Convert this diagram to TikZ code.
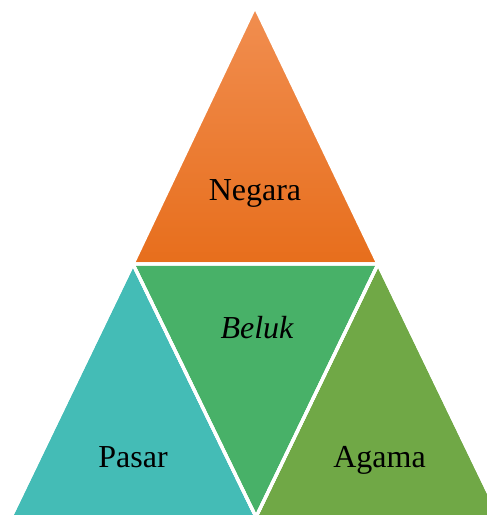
\documentclass[tikz,border=0pt]{standalone}
\usepackage{fontspec}
\setmainfont{Liberation Serif}
\definecolor{orgtop}{RGB}{241,142,80}
\definecolor{orgbot}{RGB}{231,110,28}
\definecolor{midgreen}{RGB}{72,177,104}
\definecolor{tealc}{RGB}{68,188,182}
\definecolor{olivec}{RGB}{112,168,70}
\tikzset{
  piece/.style={draw=white, line width=1.6pt, line join=miter},
  lab/.style={anchor=base, inner sep=0pt, font=\fontsize{16}{19}\selectfont}
}
\begin{document}
\begin{tikzpicture}[x=0.5pt,y=-0.5pt]
\useasboundingbox (0,0) rectangle (487,515);
\clip (0,0) rectangle (487,515);
\coordinate (A) at (255,7);
\coordinate (L) at (133,264);
\coordinate (R) at (378,264);
\coordinate (BL) at (11,517);
\coordinate (BM) at (256,517);
\coordinate (BR) at (500,517);
\shade[top color=orgtop, bottom color=orgbot] (A) -- (L) -- (R) -- cycle;
\draw[piece] (A) -- (L) -- (R) -- cycle;
\fill[tealc, piece] (L) -- (BL) -- (BM) -- cycle;
\fill[olivec, piece] (R) -- (BM) -- (BR) -- cycle;
\fill[midgreen, piece] (L) -- (R) -- (BM) -- cycle;
\draw[piece] (L) -- (BL) -- (BM) -- cycle;
\draw[piece] (R) -- (BM) -- (BR) -- cycle;
\draw[piece] (L) -- (R) -- (BM) -- cycle;
\node[lab] (neg) at (255,200) {Negara};
\node[lab] (bel) at (257,338) {\itshape Beluk};
\node[lab] (pas) at (133,467) {Pasar};
\node[lab] (aga) at (379.5,467) {Agama};
\end{tikzpicture}
\end{document}
